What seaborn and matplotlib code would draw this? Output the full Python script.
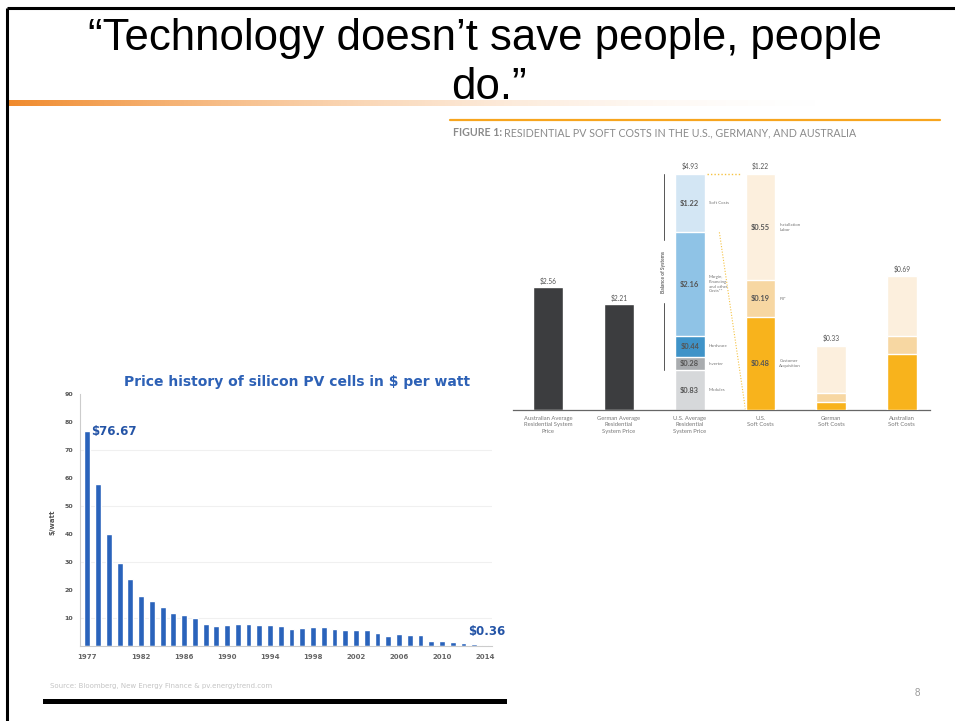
import numpy as np
import matplotlib
matplotlib.use('Agg')
import matplotlib.pyplot as plt
import matplotlib.colors as mcolors
import seaborn as sns

sns.set_style('white')

# Left chart: price history of silicon PV cells ($/watt)
years = list(range(1977, 2015))
prices = [76.67, 57.8, 39.9, 29.8, 23.8, 18.0, 15.9, 13.8, 11.9, 11.1,
          9.9, 7.9, 7.3, 7.5, 7.7, 7.9, 7.6, 7.6, 7.3, 6.0,
          6.3, 6.7, 6.7, 6.0, 5.6, 5.8, 5.6, 4.5, 3.7, 4.2,
          3.9, 3.9, 1.9, 1.8, 1.55, 0.95, 0.6, 0.36]
year_ticks = [1977, 1982, 1986, 1990, 1994, 1998, 2002, 2006, 2010, 2014]

# Right chart: residential PV soft costs
categories = ['Australian Average\nResidential System\nPrice',
              'German Average\nResidential\nSystem Price',
              'U.S. Average\nResidential\nSystem Price',
              'U.S.\nSoft Costs', 'German\nSoft Costs', 'Australian\nSoft Costs']
system_prices = [2.56, 2.21]
us_parts = ['Modules', 'Inverter', 'Hardware',
            'Margin,\nFinancing\nand other\nCosts**', 'Soft Costs']
us_values = [0.83, 0.28, 0.44, 2.16, 1.22]
us_colors = ['#d6d8da', '#a9acaf', '#3f93c8', '#8fc3e6', '#d3e6f4']
soft_parts = ['Customer\nAcquisition', 'PII*', 'Installation\nLabor']
us_soft = [0.48, 0.19, 0.55]
german_soft = [0.04, 0.05, 0.24]
australian_soft = [0.29, 0.09, 0.31]
soft_colors = ['#f8b31c', '#f7d7a2', '#fcefdd']

fig = plt.figure(figsize=(9.55, 7.21), dpi=100)

# slide background: border, orange rule, heading
bg = fig.add_axes([0, 0, 1, 1])
fade = np.linspace(0, 1, 300)
grad = np.ones((1, 300, 4))
grad[..., :3] = mcolors.to_rgb('#f08a2c')
grad[0, :, 3] = np.clip(1 - fade * 1.1, 0, 1) ** 2
bg.imshow(grad, extent=(8, 955, 106, 100), aspect='auto', interpolation='bilinear')
bg.plot([7, 7], [8, 721], color='black', lw=2.2, solid_capstyle='butt')
bg.plot([7, 955], [8, 8], color='black', lw=2.2, solid_capstyle='butt')
bg.fill_between([43, 507], 699, 704, color='black', lw=0)
bg.text(485, 50, '\u201cTechnology doesn\u2019t save people, people', ha='center',
        va='baseline', fontsize=31.5, family='Liberation Sans', color='black')
bg.text(489, 99, 'do.\u201d', ha='center', va='baseline', fontsize=31.5,
        family='Liberation Sans', color='black')
bg.text(917, 693, '8', ha='center', va='center', fontsize=7, color='#999999',
        family='Liberation Sans')
bg.set_xlim(0, 955)
bg.set_ylim(721, 0)
bg.axis('off')

# ---- left chart ----
ax1 = fig.add_axes([80 / 955, 1 - 646 / 721, 412 / 955, 252 / 721])
for g in [10, 30, 50, 70]:
    ax1.axhline(g, color='#f0f0f0', lw=0.8, zorder=0)
sns.barplot(x=years, y=prices, color='#2a63bb', width=0.55, saturation=1, ax=ax1, zorder=2)
ax1.set_xlim(-0.68, 37.65)
ax1.set_ylim(0, 90)
ax1.set_yticks(range(10, 100, 10))
ax1.set_yticklabels([str(v) for v in range(10, 100, 10)], fontsize=4.5,
                    fontweight='bold', color='#555555')
ax1.set_xticks([years.index(y) for y in year_ticks])
ax1.set_xticklabels([str(y) for y in year_ticks], fontsize=5, fontweight='bold', color='#666666')
ax1.tick_params(axis='y', length=2, width=0.5, color='#cccccc', pad=3)
ax1.tick_params(axis='x', length=0, pad=6)
for s in ['top', 'right']:
    ax1.spines[s].set_visible(False)
for s in ['left', 'bottom']:
    ax1.spines[s].set_color('#cccccc')
    ax1.spines[s].set_linewidth(0.8)
ax1.set_xlabel('')
ax1.set_ylabel('')
ax1.text(0.4, prices[0], '${:.2f}'.format(prices[0]), ha='left', va='center',
         fontsize=8.5, fontweight='bold', color='#2454a6')
ax1.text(38.9, 3.0, '${:.2f}'.format(prices[-1]), ha='right', va='bottom',
         fontsize=8.5, fontweight='bold', color='#2454a6', clip_on=False)
fig.text(297 / 955, 1 - 382 / 721, 'Price history of silicon PV cells in $ per watt',
         ha='center', va='center', fontsize=10, fontweight='bold', color='#2d61b6')
fig.text(52 / 955, 1 - 522 / 721, '$/watt', rotation=90, ha='center', va='center',
         fontsize=5, fontweight='bold', color='#555555')
fig.text(50 / 955, 1 - 686 / 721,
         'Source: Bloomberg, New Energy Finance & pv.energytrend.com',
         ha='left', va='center', fontsize=5, color='#c4c4c4')

# ---- right chart ----
font_r = 'Lato'
ax2 = fig.add_axes([513 / 955, 1 - 410 / 721, 417 / 955, 249 / 721])
ax3 = ax2.twinx()
ymax = 5.2
w = 0.42


def stack(ax, cat, values, colors):
    tops = np.cumsum(values)
    for top, c in zip(tops[::-1], colors[::-1]):
        sns.barplot(x=[cat], y=[top], order=categories, color=c, width=w,
                    saturation=1, ax=ax)


# system prices on the main scale
for i, v in enumerate(system_prices):
    sns.barplot(x=[categories[i]], y=[v], order=categories, color='#3c3d3f',
                width=w, saturation=1, ax=ax2)
    ax2.text(i, v + 0.05, '${:.2f}'.format(v), ha='center', va='bottom',
             fontsize=4.8, color='#555555', family=font_r)
stack(ax2, categories[2], us_values, us_colors)
us_total = sum(us_values)
ax2.text(2, us_total + 0.08, '${:.2f}'.format(us_total), ha='center', va='bottom',
         fontsize=4.8, color='#555555', family=font_r)
cum = np.cumsum([0] + us_values)
for k, (name, v) in enumerate(zip(us_parts, us_values)):
    mid = (cum[k] + cum[k + 1]) / 2
    ax2.text(2, mid, '${:.2f}'.format(v), ha='center', va='center', fontsize=5.4,
             color='#555555', family=font_r, fontweight='bold')
    ax2.text(2 + 0.27, mid, name, ha='left', va='center', fontsize=3.2,
             color='#777777', family=font_r, linespacing=1.3)

# balance of systems bracket
bos_lo, bos_hi = us_values[0], us_total
txt_mid = 2.88
ax2.plot([1.63, 1.63], [bos_lo, txt_mid - 0.65], color='#555555', lw=0.7)
ax2.plot([1.63, 1.63], [txt_mid + 0.67, bos_hi], color='#555555', lw=0.7)
ax2.text(1.63, txt_mid, 'Balance of Systems', rotation=90, ha='center', va='center',
         fontsize=3.5, color='#666666', family=font_r, fontweight='bold')

# connectors from U.S. soft cost segment to exploded bar
soft_bottom = us_total - us_values[-1]
ax2.plot([2 + 0.25, 3 - 0.27], [us_total, us_total], color='#f5c242', lw=1,
         ls=(0, (1, 1.5)))
ax2.plot([2 + 0.42, 3 - w / 2], [soft_bottom, 0], color='#f5c242', lw=0.8,
         ls=(0, (1, 1.5)))

# soft costs on an expanded scale: the U.S. soft cost bar matches the $4.93 bar
soft_ymax = ymax * us_values[-1] / us_total
for idx, vals in [(3, us_soft), (4, german_soft), (5, australian_soft)]:
    stack(ax3, categories[idx], vals, soft_colors)
    ax3.text(idx, sum(vals) + 0.02, '${:.2f}'.format(sum(vals)), ha='center',
             va='bottom', fontsize=4.8, color='#555555', family=font_r)
cum = np.cumsum([0] + us_soft)
for k, (name, v) in enumerate(zip(soft_parts, us_soft)):
    mid = (cum[k] + cum[k + 1]) / 2
    ax3.text(3, mid, '${:.2f}'.format(v), ha='center', va='center', fontsize=5.4,
             color='#555555', family=font_r, fontweight='bold')
    ax3.text(3 + 0.27, mid, name, ha='left', va='center', fontsize=3.2,
             color='#777777', family=font_r, linespacing=1.3)

ax2.set_ylim(0, ymax)
ax3.set_ylim(0, soft_ymax)
for ax in (ax2, ax3):
    ax.set_xlim(-0.5, 5.4)
    ax.set_ylabel('')
    ax.set_xlabel('')
    ax.set_yticks([])
    for s in ['top', 'right', 'left']:
        ax.spines[s].set_visible(False)
    ax.spines['bottom'].set_color('#666666')
    ax.spines['bottom'].set_linewidth(0.9)
ax3.spines['bottom'].set_visible(False)
ax2.set_xticks(range(len(categories)))
ax2.set_xticklabels(categories, fontsize=4.2, color='#777777', family=font_r,
                    linespacing=1.4)
ax2.set_xticks([0.5, 1.5, 2.5, 3.5, 4.5], minor=True)
ax2.tick_params(axis='x', which='major', length=0, pad=4)
ax2.tick_params(axis='x', which='minor', length=2, width=0.6, color='#666666',
                direction='inout')

fig.lines.append(plt.Line2D([450 / 955, 940 / 955], [1 - 120 / 721, 1 - 120 / 721],
                            color='#f7a51e', lw=1.6, transform=fig.transFigure))
t1 = fig.text(453 / 955, 1 - 133 / 721, 'FIGURE 1:', ha='left', va='center',
              fontsize=7.7, fontweight='bold', color='#8a8a8a', family=font_r)
fig.canvas.draw()
bb = t1.get_window_extent()
fig.text(bb.x1 / 955 + 2 / 955, 1 - 133 / 721,
         'RESIDENTIAL PV SOFT COSTS IN THE U.S., GERMANY, AND AUSTRALIA',
         ha='left', va='center', fontsize=7.7, color='#8a8a8a', family=font_r)

fig.savefig('out.png', dpi=100)
